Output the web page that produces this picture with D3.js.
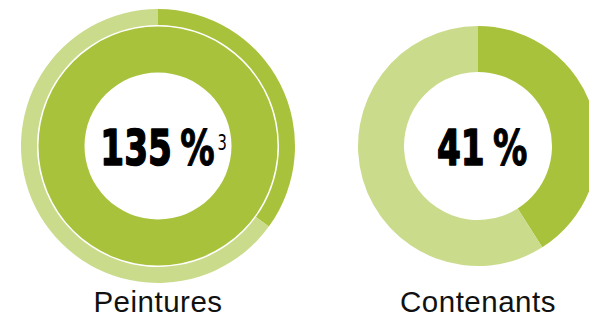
<!DOCTYPE html>
<html>
<head>
<meta charset="utf-8">
<script src="https://cdn.jsdelivr.net/npm/d3@7"></script>
<style>
  html, body { margin: 0; padding: 0; background: #ffffff; }
  svg { display: block; }
</style>
</head>
<body>
<svg id="chart" width="589" height="321"></svg>
<script>
// Share of each category, in percent
const categories = ["Peintures", "Contenants"];
const values = [135, 41];
const notes = ["3", ""];

const colors = { filled: "#a8c23b", rest: "#cadb8c" };

const svg = d3.select("#chart");
const cy = 146;

const x = d3.scalePoint().domain(categories).range([158, 478]);

// Each 100 % is a full ring; the remainder goes on the next ring outwards
const rings = [
  { inner: 73.5, outer: 119.5 },
  { inner: 121, outer: 137 }
];

const pie = d3.pie().sort(null).value(d => d.v);

// condensed look for the centre figures
const squeeze = 0.7;

categories.forEach((cat, i) => {
  const v = values[i];
  const g = svg.append("g").attr("transform", `translate(${x(cat)},${cy})`);
  const fullRings = Math.floor(v / 100);
  const remainder = v - fullRings * 100;
  const ringCount = remainder > 0 ? fullRings + 1 : fullRings;

  for (let r = 0; r < ringCount; r++) {
    const share = r < fullRings ? 100 : remainder;
    const parts = [
      { v: share, c: colors.filled },
      { v: 100 - share, c: colors.rest }
    ];
    // a single donut uses the wider outer radius
    const geom = ringCount === 1 ? { inner: 74, outer: 120 } : rings[r];
    const arc = d3.arc().innerRadius(geom.inner).outerRadius(geom.outer);
    g.selectAll(null)
      .data(pie(parts))
      .join("path")
      .attr("d", arc)
      .attr("fill", d => d.data.c);
  }

  // Centre value
  const holder = g.append("g");
  const t = holder.append("text")
    .attr("y", 19)
    .attr("font-family", "'DejaVu Sans', sans-serif")
    .attr("font-weight", "bold")
    .attr("font-size", 49)
    .attr("fill", "#000");
  t.append("tspan")
    .attr("stroke", "#000").attr("stroke-width", 1.6).attr("stroke-linejoin", "round")
    .text(v);
  t.append("tspan")
    .attr("dx", 12)
    .attr("stroke", "#000").attr("stroke-width", 1.2).attr("stroke-linejoin", "round")
    .text("%");
  if (notes[i]) {
    t.append("tspan")
      .attr("dx", 4)
      .attr("dy", -15)
      .attr("font-size", 21)
      .attr("font-weight", "normal")
      .text(notes[i]);
  }
  const w = t.node().getComputedTextLength();
  holder.attr("transform", `scale(${squeeze},1) translate(${-w / 2},0)`);

  // Category label
  svg.append("text")
    .attr("x", x(cat))
    .attr("y", 312)
    .attr("text-anchor", "middle")
    .attr("font-family", "'Liberation Sans', Arial, sans-serif")
    .attr("font-size", 29.5)
    .attr("letter-spacing", 0.5)
    .attr("fill", "#111")
    .text(cat);
});
</script>
</body>
</html>
